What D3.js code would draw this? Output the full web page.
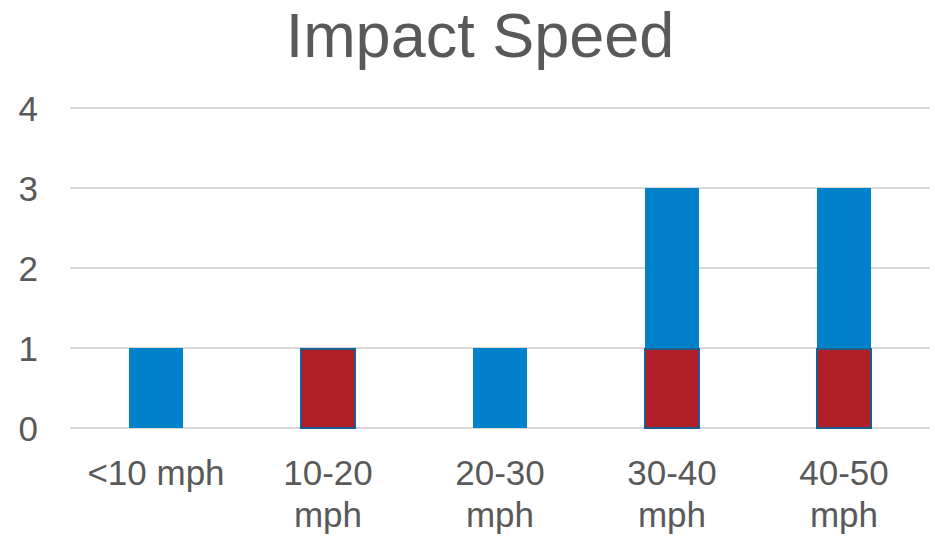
<!DOCTYPE html>
<html>
<head>
<meta charset="utf-8">
<script src="https://cdn.jsdelivr.net/npm/d3@7"></script>
<style>
  html, body { margin: 0; padding: 0; background: #ffffff; }
  svg { display: block; font-family: "Liberation Sans", Arial, sans-serif; }
</style>
</head>
<body>
<svg id="chart" width="935" height="541"></svg>
<script>
// Impact speed bands and counts for the two overlapping series
const categories = ["<10 mph", "10-20 mph", "20-30 mph", "30-40 mph", "40-50 mph"];
const seriesA = [1, 1, 1, 3, 3];   // blue series
const seriesB = [0, 1, 0, 1, 1];   // red series (drawn on top)
const yTicks = [0, 1, 2, 3, 4];
const title = "Impact Speed";

const svg = d3.select("#chart");
const textColor = "#595959";
const labelSize = 35;

const x = d3.scaleBand().domain(categories).range([70, 930]).padding(0);
const y = d3.scaleLinear().domain([0, 4]).range([428, 108]);
const barW = x.bandwidth() * 0.314;

// Title
svg.append("text")
  .attr("x", 480).attr("y", 57)
  .attr("text-anchor", "middle")
  .attr("font-size", 63)
  .attr("fill", textColor)
  .text(title);

// Horizontal gridlines
svg.append("g")
  .selectAll("line")
  .data(yTicks)
  .join("line")
  .attr("x1", 70).attr("x2", 930)
  .attr("y1", d => y(d)).attr("y2", d => y(d))
  .attr("stroke", "#d9d9d9")
  .attr("stroke-width", 2);

// Y axis labels
const yAxis = d3.axisLeft(y).tickValues(yTicks).tickFormat(d3.format("d")).tickSize(0).tickPadding(0);
const gy = svg.append("g").attr("transform", "translate(38,0)").call(yAxis);
gy.select(".domain").remove();
gy.selectAll("text")
  .attr("font-size", labelSize)
  .attr("fill", textColor)
  .attr("font-family", "Liberation Sans, Arial, sans-serif")
  .attr("dy", "0.36em");

// X axis labels with wrapping
const xAxis = d3.axisBottom(x).tickSize(0).tickPadding(0);
const gx = svg.append("g").attr("transform", "translate(0,428)").call(xAxis);
gx.select(".domain").remove();
gx.selectAll("text")
  .attr("font-size", labelSize)
  .attr("fill", textColor)
  .attr("font-family", "Liberation Sans, Arial, sans-serif")
  .attr("y", 0)
  .attr("dy", null)
  .each(function() {
    const t = d3.select(this);
    const words = t.text().split(/\s+/);
    t.text(null);
    let lines = [];
    let line = [];
    const probe = t.append("tspan");
    words.forEach(w => {
      line.push(w);
      probe.text(line.join(" "));
      if (probe.node().getComputedTextLength() > 160 && line.length > 1) {
        line.pop();
        lines.push(line.join(" "));
        line = [w];
      }
    });
    lines.push(line.join(" "));
    probe.remove();
    lines.forEach((l, i) => {
      t.append("tspan").attr("x", 0).attr("y", 57 + i * 42).text(l);
    });
  });

// Blue series
svg.append("g")
  .selectAll("rect")
  .data(categories.map((c, i) => ({ c, v: seriesA[i] })))
  .join("rect")
  .attr("x", d => x(d.c) + x.bandwidth() / 2 - barW / 2)
  .attr("y", d => y(d.v))
  .attr("width", barW)
  .attr("height", d => y(0) - y(d.v))
  .attr("fill", "#0081c9");

// Red series, overlapping in front
svg.append("g")
  .selectAll("rect")
  .data(categories.map((c, i) => ({ c, v: seriesB[i] })).filter(d => d.v > 0))
  .join("rect")
  .attr("x", d => x(d.c) + x.bandwidth() / 2 - barW / 2)
  .attr("y", d => y(d.v) + 1)
  .attr("width", barW)
  .attr("height", d => y(0) - y(d.v) - 1)
  .attr("fill", "#b01e28")
  .attr("stroke", "#1d5e8e")
  .attr("stroke-width", 2);
</script>
</body>
</html>
